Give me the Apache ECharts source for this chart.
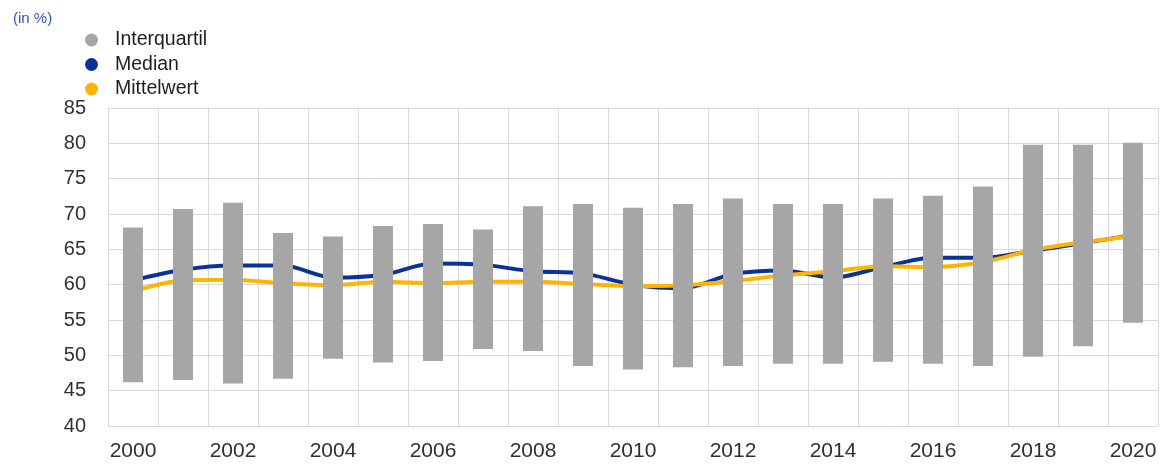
<!DOCTYPE html>
<html>
<head>
<meta charset="utf-8">
<script src="https://cdn.jsdelivr.net/npm/echarts@6/dist/echarts.min.js"></script>
<style>
html,body{margin:0;padding:0;background:#fff;}
#c{width:1163px;height:465px;}
</style>
</head>
<body>
<div id="c"></div>
<script>
const years = ['2000','2001','2002','2003','2004','2005','2006','2007','2008','2009','2010','2011','2012','2013','2014','2015','2016','2017','2018','2019','2020'];
const q1 = [46.2,46.5,46.0,46.7,49.5,49.0,49.2,50.9,50.6,48.5,48.0,48.3,48.5,48.8,48.8,49.1,48.8,48.5,49.8,51.3,54.6];
const q3 = [68.1,70.7,71.6,67.3,66.8,68.3,68.6,67.8,71.1,71.4,70.9,71.4,72.2,71.4,71.4,72.2,72.6,73.9,79.8,79.8,80.1];
const median = [60.6,62.1,62.7,62.7,61.0,61.4,63.0,62.8,61.9,61.6,60.0,59.5,61.5,62.0,61.0,62.5,63.8,63.8,64.8,65.9,67.0];
const mean = [59.1,60.6,60.7,60.2,59.9,60.4,60.2,60.4,60.4,60.1,59.8,59.9,60.5,61.3,61.9,62.6,62.5,63.2,64.9,66.0,66.9];
const yTicks = {min:40, max:85, interval:5};

const iqr = q3.map((v,i)=> +(v - q1[i]).toFixed(2));
const font = 'Liberation Sans, Arial, sans-serif';
const gridColor = '#d9d9d9';
const textColor = '#303030';

const chart = echarts.init(document.getElementById('c'), null, {renderer:'canvas'});
chart.setOption({
  animation:false,
  backgroundColor:'#fff',
  title:{
    text:'(in %)', left:8, top:6,
    textStyle:{color:'#2d57b8', fontSize:15, fontWeight:'normal', fontFamily:font}
  },
  legend:{
    orient:'vertical', left:80, top:25,
    icon:'circle', itemWidth:13, itemHeight:13, itemGap:4.5,
    data:['Interquartil','Median','Mittelwert'],
    textStyle:{color:'#1e1e1e', fontSize:19.5, fontFamily:font, lineHeight:20, padding:[0,0,0,12]}
  },
  grid:{left:108, right:5, top:108, bottom:39, containLabel:false},
  xAxis:{
    type:'category', data:years, boundaryGap:true,
    axisLine:{show:true, lineStyle:{color:gridColor, width:1}},
    axisTick:{show:false},
    splitLine:{show:true, interval:0, lineStyle:{color:gridColor, width:1}},
    axisLabel:{interval:1, color:textColor, fontSize:21, fontFamily:font, margin:15}
  },
  yAxis:{
    type:'value', min:yTicks.min, max:yTicks.max, interval:yTicks.interval,
    axisLine:{show:true, lineStyle:{color:gridColor, width:1}},
    axisTick:{show:false},
    splitLine:{show:true, lineStyle:{color:gridColor, width:1}},
    axisLabel:{color:textColor, fontSize:20, fontFamily:font, margin:22}
  },
  series:[
    {name:'Median', type:'line', data:median, smooth:0.3, symbol:'none', z:1,
     itemStyle:{color:'#0a3299'}, lineStyle:{color:'#0a3299', width:4}},
    {name:'Mittelwert', type:'line', data:mean, smooth:0.3, symbol:'none', z:1,
     itemStyle:{color:'#ffb400'}, lineStyle:{color:'#ffb400', width:4}},
    {name:'base', type:'bar', stack:'iq', data:q1, barWidth:20, z:3,
     itemStyle:{color:'rgba(0,0,0,0)'}, silent:true},
    {name:'Interquartil', type:'bar', stack:'iq', data:iqr, barWidth:20, z:3,
     itemStyle:{color:'#a6a6a6'}}
  ]
});
</script>
</body>
</html>
